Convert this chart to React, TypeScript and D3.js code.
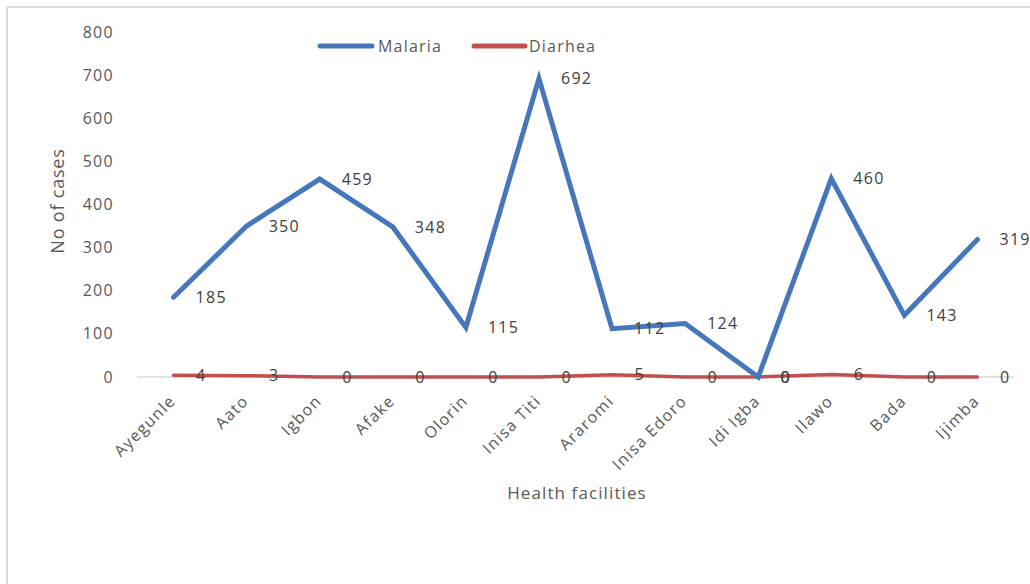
import React from "react";
import * as d3 from "d3";

const categories = ["Ayegunle", "Aato", "Igbon", "Afake", "Olorin", "Inisa Titi", "Araromi", "Inisa Edoro", "Idi Igba", "Ilawo", "Bada", "Ijimba"];
const malaria = [185, 350, 459, 348, 115, 692, 112, 124, 0, 460, 143, 319];
const diarrhea = [4, 3, 0, 0, 0, 0, 5, 0, 0, 6, 0, 0];
const yTicks = [0, 100, 200, 300, 400, 500, 600, 700, 800];
const seriesNames = ["Malaria", "Diarhea"];

const W = 1030;
const H = 584;
const FONT = "'Open Sans', sans-serif";
const BLUE = "#4677BD";
const RED = "#C0504D";

export default function App() {
  const x = d3.scaleBand<string>().domain(categories).range([137, 1014]);
  const cx = (c: string) => (x(c) as number) + x.bandwidth() / 2;
  const y = d3.scaleLinear().domain([0, 800]).range([377, 32]);

  const line = d3
    .line<number>()
    .x((_, i) => cx(categories[i]))
    .y((d) => y(d));

  return (
    <svg width={W} height={H} style={{ position: "absolute", left: 0, top: 0, background: "#fff" }}>
      {/* frame */}
      <line x1={7} y1={7} x2={W} y2={7} stroke="#d9d9d9" strokeWidth={2} />
      <line x1={7} y1={7} x2={7} y2={H} stroke="#d9d9d9" strokeWidth={2} />

      {/* y ticks */}
      {yTicks.map((t) => (
        <text key={t} x={114} y={y(t)} dy="0.35em" textAnchor="end" fontFamily={FONT} fontSize={16} letterSpacing={1.3} fill="#595959">
          {t}
        </text>
      ))}

      {/* x axis line */}
      <line x1={137} x2={1014} y1={y(0)} y2={y(0)} stroke="#d9d9d9" strokeWidth={1.5} />

      {/* x tick labels */}
      {categories.map((c) => (
        <text
          key={c}
          transform={`translate(${cx(c) - 1},${398}) rotate(-45)`}
          textAnchor="end"
          dy="0.35em"
          fontFamily={FONT}
          fontSize={16}
          letterSpacing={1.3}
          fill="#595959"
        >
          {c}
        </text>
      ))}

      {/* lines */}
      <path d={line(diarrhea) || ""} fill="none" stroke={RED} strokeWidth={3.5} strokeLinejoin="round" strokeLinecap="round" />
      <path d={line(malaria) || ""} fill="none" stroke={BLUE} strokeWidth={5} strokeLinejoin="miter" strokeLinecap="round" />

      {/* malaria labels */}
      {malaria.map((v, i) => (
        <text key={"m" + i} x={cx(categories[i]) + 22} y={y(v)} dy="0.35em" fontFamily={FONT} fontSize={16} letterSpacing={1.3} fill="#404040">
          {v}
        </text>
      ))}
      {/* diarrhea labels */}
      {diarrhea.map((v, i) => (
        <text key={"d" + i} x={cx(categories[i]) + 27} y={y(v)} dy="0.35em" textAnchor="middle" fontFamily={FONT} fontSize={16} fill="#404040">
          {v}
        </text>
      ))}

      {/* axis titles */}
      <text transform="translate(58,201) rotate(-90)" textAnchor="middle" dy="0.35em" fontFamily={FONT} fontSize={18} letterSpacing={0.8} fill="#595959">
        No of cases
      </text>
      <text x={577} y={493} textAnchor="middle" dy="0.35em" fontFamily={FONT} fontSize={17} letterSpacing={1.1} fill="#595959">
        Health facilities
      </text>

      {/* legend */}
      <line x1={320} x2={372} y1={46} y2={46} stroke={BLUE} strokeWidth={5} strokeLinecap="round" />
      <text x={378} y={46} dy="0.35em" fontFamily={FONT} fontSize={16} letterSpacing={1.2} fill="#595959">
        {seriesNames[0]}
      </text>
      <line x1={474} x2={525} y1={46} y2={46} stroke={RED} strokeWidth={5} strokeLinecap="round" />
      <text x={529} y={46} dy="0.35em" fontFamily={FONT} fontSize={16} letterSpacing={1.2} fill="#595959">
        {seriesNames[1]}
      </text>
    </svg>
  );
}
